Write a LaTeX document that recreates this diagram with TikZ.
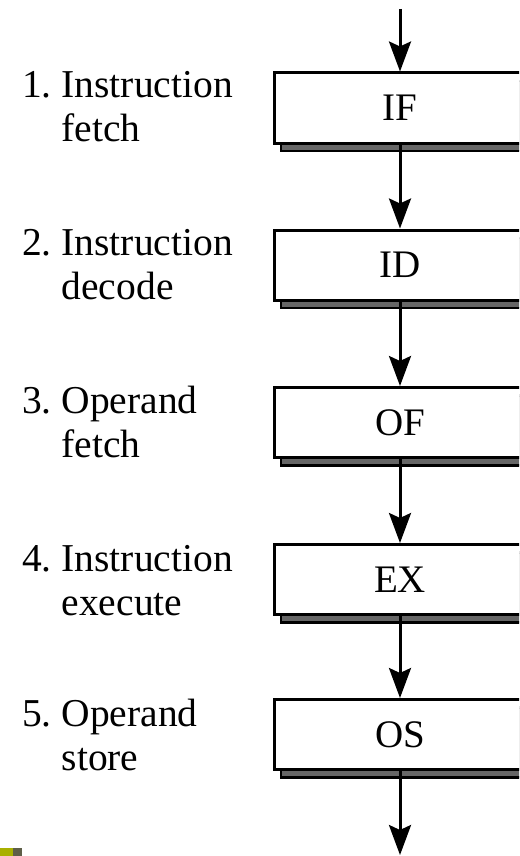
\documentclass[tikz,border=0pt]{standalone}
\usepackage{fontspec}
\setmainfont{Liberation Serif}
\usetikzlibrary{arrows.meta,shadows}
\definecolor{shadowgray}{HTML}{666666}
\definecolor{olivey}{HTML}{A9B000}
\definecolor{olived}{HTML}{5E5E48}
\tikzset{
  stagebox/.style={draw=black, line width=3pt, fill=white, rectangle,
    minimum width=252pt, minimum height=70pt, inner sep=0pt,
    font=\fontsize{39}{44}\selectfont,
    drop shadow={shadow xshift=7pt, shadow yshift=-8pt, opacity=1,
      fill=shadowgray, draw=black, line width=2.2pt}},
  flow/.style={line width=3pt, -{Stealth[length=30pt, width=22pt, inset=5pt]}},
  steplabel/.style={anchor=base west, inner sep=0pt, align=left,
    font=\fontsize{39.5}{44}\selectfont}
}
\begin{document}
\begin{tikzpicture}[x=1pt,y=-1pt]
\useasboundingbox (0,0) rectangle (519,856);
\clip (0,0) rectangle (519,856);
\fill[white] (0,0) rectangle (519,856);
% boxes
\node[stagebox] (IF) at (400,108) {IF};
\node[stagebox] (ID) at (400,265) {ID};
\node[stagebox] (OF) at (400,422.5) {OF};
\node[stagebox] (EX) at (400,579.5) {EX};
\node[stagebox] (OS) at (400,734.5) {OS};
% labels
\node[steplabel] (l1) at (22,98) {\begin{tabular}[t]{@{}l@{\hspace{0.25em}}l@{}}1. & Instruction\\ & fetch\end{tabular}};
\node[steplabel] (l2) at (22,255) {\begin{tabular}[t]{@{}l@{\hspace{0.25em}}l@{}}2. & Instruction\\ & decode\end{tabular}};
\node[steplabel] (l3) at (22,413) {\begin{tabular}[t]{@{}l@{\hspace{0.25em}}l@{}}3. & Operand\\ & fetch\end{tabular}};
\node[steplabel] (l4) at (22,571) {\begin{tabular}[t]{@{}l@{\hspace{0.25em}}l@{}}4. & Instruction\\ & execute\end{tabular}};
\node[steplabel] (l5) at (22,726) {\begin{tabular}[t]{@{}l@{\hspace{0.25em}}l@{}}5. & Operand\\ & store\end{tabular}};
% connectors
\coordinate (start) at (400,9);
\coordinate (finish) at (400,855);
\draw[flow] (start) -- (IF.north);
\draw[flow] (IF.south) -- (ID.north);
\draw[flow] (ID.south) -- (OF.north);
\draw[flow] (OF.south) -- (EX.north);
\draw[flow] (EX.south) -- (OS.north);
\draw[flow] (OS.south) -- (finish);
% corner mark
\fill[olivey] (0,848) rectangle (13,856);
\fill[olived] (13,848) rectangle (22,856);
\end{tikzpicture}
\end{document}
